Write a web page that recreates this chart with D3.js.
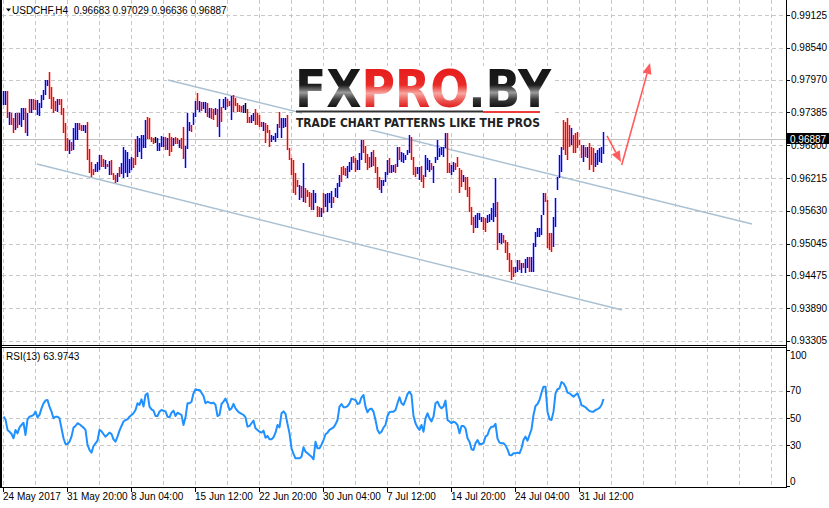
<!DOCTYPE html>
<html><head><meta charset="utf-8">
<script src="https://cdn.jsdelivr.net/npm/d3@7"></script>
<style>html,body{margin:0;padding:0;background:#fff;} svg{display:block;font-family:"Liberation Sans",Arial,sans-serif;}</style>
</head><body><svg id="c" width="829" height="508"></svg>
<script>
const symbolName = "USDCHF,H4";
const lastOHLC = ["0.96683", "0.97029", "0.96636", "0.96887"];
const lastPrice = 0.96887;
const rsiPeriod = 13;

const barHigh = [
.97769,.97769,.97769,.97400,.97370,.97281,.97370,.97370,.97382,.97459,
.97459,.97459,.97370,.97620,.97620,.97620,.97608,.97608,.97548,.97697,
.97786,.97965,.97965,.98102,.97846,.97667,.97596,.97620,.97620,.97620,
.97459,.97203,.96924,.96894,.96864,.97102,.97203,.97203,.97203,.97162,
.97162,.97162,.97215,.96727,.96507,.96370,.96466,.96507,.96626,.96626,
.96549,.96537,.96460,.96525,.96537,.96299,.96269,.96299,.96418,.96477,
.96775,.96715,.96686,.96549,.96596,.96567,.96906,.96965,.96924,.96983,
.96983,.97251,.97299,.97281,.96953,.96924,.96942,.96924,.96834,.96965,
.96953,.96942,.96924,.97013,.96942,.96924,.96942,.96924,.96894,.96924,
.97132,.96787,.97382,.97215,.97162,.97370,.97590,.97727,.97590,.97578,
.97578,.97578,.97560,.97459,.97459,.97441,.97459,.97441,.97620,.97489,
.97620,.97667,.97620,.97596,.97679,.97697,.97650,.97548,.97519,.97501,
.97519,.97548,.97441,.97310,.97340,.97370,.97441,.97370,.97340,.97221,
.97221,.97191,.97162,.97072,.96983,.96965,.97025,.97174,.97400,
.97281,.97281,.97281,.97340,.96745,.96567,.96537,.96299,.96180,.96091,
.96073,.96477,.96031,.96001,.95972,.95942,.96001,.95942,.95716,.95704,
.95674,.95942,.95930,.95954,.95942,.95990,.95871,.96031,.96120,.96269,
.96418,.96430,.96388,.96430,.96501,.96596,.96608,.96567,.96537,.96668,
.96894,.96894,.96787,.96644,.96596,.96686,.96715,.96596,.96418,.96239,
.96180,.96180,.96329,.96537,.96567,.96448,.96448,.96466,.96763,.96763,
.96686,.96656,.96626,.96715,.96983,.96953,.96596,.96418,.96418,.96418,
.96430,.96269,.96626,.96567,.96537,.96477,.96430,.96596,.96894,.96745,
.96774,.96774,.97012,.97012,.96476,.96447,.96506,.96476,.96595,.96387,
.96357,.96268,.96238,.96238,.96060,.95703,.95524,.95554,.95584,.95584,
.95524,.95524,.95495,.95554,.95572,.95673,.95762,.96221,.95792,.95227,
.95227,.95197,.95108,.95078,.94882,.94751,.94632,.94632,.94751,.94751,
.94692,.94692,.94763,.94810,.94799,.94810,.95048,.95257,.95316,.95316,
.95554,.95941,.95941,.95822,.95227,.95227,.95524,.95852,.96238,.96625,
.96774,.97250,.97220,.97280,.97161,.97101,.96982,.97012,.97042,.96893,
.96804,.96804,.96774,.96774,.96833,.96774,.96744,.96655,.96714,.96744,
.96774,.97029];

const barLow = [
.97519,.97519,.97281,.97162,.97162,.97013,.97072,.97102,.97162,.97132,
.97251,.97013,.96965,.97370,.97370,.97429,.97429,.97340,.97322,.97459,
.97608,.97697,.97858,.97620,.97441,.97370,.97418,.97400,.97519,.97340,
.97013,.96704,.96704,.96644,.96704,.96715,.96894,.96894,.97072,.97061,
.97061,.97025,.96537,.96299,.96228,.96269,.96329,.96329,.96358,.96418,
.96406,.96370,.96406,.96269,.96269,.96180,.96132,.96150,.96239,.96281,
.96210,.96299,.96239,.96299,.96358,.96400,.96448,.96596,.96686,.96549,
.96745,.96745,.96906,.96906,.96864,.96823,.96834,.96704,.96704,.96775,
.96763,.96715,.96715,.96608,.96686,.96787,.96823,.96823,.96745,.96727,
.96549,.96400,.96727,.97061,.97043,.97162,.97310,.97429,.97400,.97418,
.97441,.97382,.97299,.97281,.97263,.97251,.97340,.97132,.96953,.97221,
.97459,.97429,.97489,.97501,.97251,.97400,.97501,.97400,.97400,.97400,
.97370,.97370,.97203,.97203,.97191,.97239,.97156,.97162,.97132,.97132,
.97061,.96846,.97025,.96763,.96864,.96894,.96864,.96924,.97102,
.96924,.97102,.97132,.96715,.96537,.96269,.95942,.95912,.96061,.95823,
.95853,.95793,.95775,.95882,.95704,.95644,.95644,.95763,.95525,.95525,
.95525,.95585,.95704,.95615,.95763,.95674,.95763,.95882,.95853,.96061,
.96150,.96269,.96251,.96210,.96329,.96358,.96477,.96329,.96358,.96358,
.96537,.96656,.96477,.96358,.96388,.96418,.96430,.96299,.96031,.96001,
.95942,.96073,.96150,.96269,.96299,.96299,.96329,.96299,.96418,.96537,
.96507,.96489,.96537,.96626,.96656,.96537,.96269,.96239,.96287,.96180,
.96150,.96031,.96239,.96358,.96329,.96358,.96132,.96477,.96537,.96596,
.96625,.96595,.96744,.96298,.96298,.96268,.96328,.96357,.96417,.95941,
.96060,.96149,.96000,.95881,.95614,.95376,.95227,.95316,.95316,.95465,
.95435,.95286,.95257,.95405,.95435,.95465,.95435,.95524,.94929,.95048,
.95037,.95048,.94870,.94751,.94543,.94394,.94453,.94513,.94543,.94572,
.94513,.94602,.94513,.94602,.94543,.94543,.94543,.94989,.95167,.95167,
.95197,.95554,.95792,.94959,.94929,.94900,.94989,.95346,.96000,.96209,
.96328,.96714,.96625,.96536,.96774,.96804,.96655,.96655,.96744,.96804,
.96566,.96506,.96595,.96566,.96357,.96447,.96328,.96417,.96447,.96506,
.96476,.96636];

// b = bullish (blue), r = bearish (red), k = unchanged (black)
const barDirection = (
"bbrbrrbrbb" + "brbrbrrbbb" + "bbbrrrrbrr" + "rrrbrbbbrr" + "bbrrrrbbbr" +
"rbrbrrrbrb" + "bbbbbrrbbb" + "bbrrrrkbbb" + "brbrrbrrbr" + "rbbbrbbrbr" +
"bbrbrrbrbr" + "bbrrbrrrrr" + "bkrrbbrrrr" + "brrrbbbbr" +
"bbbrrrrrrb" + "rbrrrrbbrr" + "brbbbbrbbb" + "rrrbbbrrbb" + "brrrrbrrrr" +
"bbbbrbbrbr" + "bbbbbrrrbb" + "rrbbbrbbbb" + "bbbrrbbrrr" + "rbrrrrrbbb" +
"brrbbbbbrb" + "brrrrrrbbr" + "brbbrbbbbb" + "bbrrrrbbbb" + "brrrrbrrrr" +
"rbrbrrrbbb" + "bb").split("");

const rsiValues = [
51.0,49.1,41.3,40.0,38.3,35.2,41.3,38.8,43.2,44.9,
46.6,37.6,49.1,51.0,51.5,52.3,54.7,50.5,52.3,57.1,
60.8,62.8,63.2,58.4,54.7,49.8,51.0,51.0,49.8,42.5,
35.2,31.0,31.0,32.7,36.4,43.0,44.2,46.2,45.4,44.2,
43.0,41.3,30.3,26.6,24.7,29.5,31.5,33.4,41.3,40.3,
38.3,36.4,37.8,39.3,38.3,34.4,32.7,36.4,40.8,44.2,
47.4,48.6,49.1,51.0,52.3,53.5,55.9,60.8,59.6,63.7,
58.4,66.9,68.1,58.4,56.4,55.4,51.5,51.5,54.7,55.9,
55.4,54.9,51.0,50.5,53.9,55.4,51.5,53.9,53.0,52.3,
44.9,50.5,60.8,60.8,62.0,68.1,71.1,70.6,70.6,68.6,
66.2,60.8,62.0,61.3,60.8,61.3,59.6,51.5,52.3,60.3,
62.0,64.2,60.8,55.9,57.1,60.3,57.1,55.2,53.9,53.0,
52.3,50.5,43.7,44.2,46.2,48.1,42.5,41.3,40.0,39.3,
40.8,35.6,36.9,34.4,34.4,35.9,39.3,44.9,43.2,53.5,
54.9,53.0,45.7,38.8,27.8,23.7,20.5,20.5,20.5,21.7,
28.6,25.4,24.2,22.9,21.7,19.8,32.7,27.8,27.8,30.5,
33.9,38.1,39.3,41.3,42.2,43.2,45.4,48.6,58.4,60.3,
57.9,57.9,58.8,60.8,64.2,63.7,63.2,60.3,60.8,65.2,
66.9,58.4,54.2,56.4,56.9,54.7,48.6,41.3,38.8,40.0,
43.0,44.9,51.5,54.2,54.7,54.7,55.9,60.8,65.2,60.8,
59.6,63.2,67.6,69.3,66.9,51.5,46.2,43.2,41.3,44.9,
40.0,49.8,53.5,49.8,47.6,51.0,60.8,62.0,58.8,57.1,
58.4,62.8,48.6,47.4,46.2,47.4,46.6,44.9,38.8,44.2,
44.2,42.5,35.2,32.7,27.1,26.6,31.5,33.9,31.0,31.0,
31.5,36.4,37.6,41.8,43.7,43.7,45.7,34.9,32.0,31.5,
31.5,30.0,27.1,22.9,22.7,24.2,24.2,24.7,24.2,27.8,
33.9,36.4,33.4,37.6,41.8,52.3,58.8,60.3,63.2,68.6,
73.0,73.0,54.7,49.1,48.6,54.7,68.1,71.1,71.8,76.4,
75.5,73.0,68.6,68.1,66.9,65.7,66.9,68.1,64.5,59.3,
58.8,57.9,56.4,55.2,54.7,54.7,55.9,56.6,57.4,59.6,
63.9743];

const priceTicks = [0.99125, 0.98540, 0.97970, 0.97385, 0.96800, 0.96215, 0.95630, 0.95045, 0.94475, 0.93890, 0.93305];
const rsiTicks = [100, 70, 50, 30, 0];
const rsiLevels = [70, 50, 30];
const timeLabels = ["24 May 2017", "31 May 20:00", "8 Jun 04:00", "15 Jun 12:00", "22 Jun 20:00", "30 Jun 04:00", "7 Jul 12:00", "14 Jul 20:00", "24 Jul 04:00", "31 Jul 12:00"];
const timeLabelBars = [0, 32, 64, 96, 128, 160, 192, 224, 256, 288];
const gridStepBars = 16;
const visibleBars = 391;

// annotations in [bar index, price]
const upperChannel = [[82.25, 0.97964], [374.25, 0.95394]];
const lowerChannel = [[16.75, 0.96465], [309.25, 0.93858]];
const arrowDown = [[301.75, 0.96965], [308.75, 0.96500]];
const arrowUp = [[309.1, 0.96447], [323.25, 0.98268]];

// ---------- drawing ----------
const svg = d3.select("#c");
const axisX = 786;
const mainTop = 0, mainBottom = 345.5, rsiTop = 347.5, rsiBottom = 487;

const x = d3.scaleLinear().domain([0, visibleBars]).range([3.5, 3.5 + 2 * visibleBars]);
const yP = d3.scaleLinear().domain([0.99125, 0.93305]).range([15, 341]);
const yR = d3.scaleLinear().domain([100, 0]).range([349.8, 486.3]);

const defs = svg.append("defs");
defs.append("clipPath").attr("id", "clipMain").append("rect").attr("x", 2).attr("y", 0).attr("width", axisX - 2).attr("height", mainBottom);
defs.append("clipPath").attr("id", "clipRsi").append("rect").attr("x", 2).attr("y", rsiTop + 0.5).attr("width", axisX - 2).attr("height", rsiBottom - rsiTop - 1);

const gridColor = "#c8c8c8";
const dash = "4,3";

// vertical grid
const gridBars = d3.range(0, visibleBars, gridStepBars);
[[mainTop, mainBottom], [rsiTop, rsiBottom]].forEach(([t, b]) => {
  svg.append("g").selectAll("line").data(gridBars).join("line")
    .attr("x1", d => x(d)).attr("x2", d => x(d)).attr("y1", t).attr("y2", b)
    .attr("stroke", gridColor).attr("stroke-dasharray", dash).attr("shape-rendering", "crispEdges");
});
// horizontal grid main
svg.append("g").selectAll("line").data(priceTicks).join("line")
  .attr("x1", 2).attr("x2", axisX).attr("y1", d => Math.round(yP(d)) + 0.5).attr("y2", d => Math.round(yP(d)) + 0.5)
  .attr("stroke", gridColor).attr("stroke-dasharray", dash).attr("shape-rendering", "crispEdges");
// horizontal grid rsi
svg.append("g").selectAll("line").data(rsiLevels).join("line")
  .attr("x1", 2).attr("x2", axisX).attr("y1", d => Math.round(yR(d)) + 0.5).attr("y2", d => Math.round(yR(d)) + 0.5)
  .attr("stroke", gridColor).attr("stroke-dasharray", dash).attr("shape-rendering", "crispEdges");

// current price line
svg.append("line").attr("x1", 2).attr("x2", axisX).attr("y1", Math.round(yP(lastPrice)) - 0.5).attr("y2", Math.round(yP(lastPrice)) - 0.5)
  .attr("stroke", "#c0c0c0").attr("shape-rendering", "crispEdges");

const gMain = svg.append("g").attr("clip-path", "url(#clipMain)");

// channel lines
const chColor = "#a9c1d3";
[upperChannel, lowerChannel].forEach(seg => {
  gMain.append("line")
    .attr("x1", x(seg[0][0])).attr("y1", yP(seg[0][1]))
    .attr("x2", x(seg[1][0])).attr("y2", yP(seg[1][1]))
    .attr("stroke", chColor).attr("stroke-width", 1.4);
});

// bars
const dirColor = { b: "#0000ff", r: "#ff0000", k: "#000000" };
gMain.append("g").selectAll("line").data(barHigh).join("line")
  .attr("x1", (d, i) => x(i)).attr("x2", (d, i) => x(i))
  .attr("y1", d => Math.round(yP(d)))
  .attr("y2", (d, i) => Math.max(Math.round(yP(barLow[i])), Math.round(yP(d)) + 1))
  .attr("stroke", (d, i) => dirColor[barDirection[i]])
  .attr("stroke-width", 1.5);

// logo watermark
const logo = svg.append("g");
logo.append("rect").attr("x", 302).attr("y", 66).attr("width", 251).attr("height", 64).attr("fill", "#fff");
const gDark = defs.append("linearGradient").attr("id", "gDark").attr("gradientUnits", "userSpaceOnUse")
  .attr("x1", 0).attr("y1", 69).attr("x2", 0).attr("y2", 107);
[[0, "#161616"], [0.42, "#1c1c1c"], [0.62, "#9a9a9a"], [0.8, "#3a3a3a"], [1, "#141414"]].forEach(s =>
  gDark.append("stop").attr("offset", s[0]).attr("stop-color", s[1]));
const gRed = defs.append("linearGradient").attr("id", "gRed").attr("gradientUnits", "userSpaceOnUse")
  .attr("x1", 0).attr("y1", 69).attr("x2", 0).attr("y2", 107);
[[0, "#e61e1e"], [0.42, "#ea2a26"], [0.64, "#f6a6a0"], [0.82, "#ee5a55"], [1, "#e02020"]].forEach(s =>
  gRed.append("stop").attr("offset", s[0]).attr("stop-color", s[1]));
const logoText = logo.append("text").attr("x", 295).attr("y", 106.5)
  .attr("font-family", "'DejaVu Sans', sans-serif").attr("font-weight", "bold").attr("font-size", 51)
  .attr("textLength", 256).attr("lengthAdjust", "spacingAndGlyphs");
logoText.append("tspan").attr("fill", "url(#gDark)").text("FX");
logoText.append("tspan").attr("fill", "url(#gRed)").text("PRO");
logoText.append("tspan").attr("fill", "url(#gDark)").text(".BY");
logo.append("rect").attr("x", 296).attr("y", 110.5).attr("width", 187).attr("height", 2).attr("fill", "#333");
logo.append("rect").attr("x", 483).attr("y", 111).attr("width", 57).attr("height", 2).attr("fill", "#ee3b3b");
logo.append("text").attr("x", 296).attr("y", 127)
  .attr("font-family", "'DejaVu Sans', sans-serif").attr("font-weight", "bold").attr("font-size", 12.5)
  .attr("textLength", 244).attr("lengthAdjust", "spacingAndGlyphs").attr("fill", "#222")
  .text("TRADE CHART PATTERNS LIKE THE PROS");

// arrows
const arrowColor = "#ff5b5b";
function drawArrow(seg) {
  const x1 = x(seg[0][0]), y1 = yP(seg[0][1]), x2 = x(seg[1][0]), y2 = yP(seg[1][1]);
  const a = Math.atan2(y2 - y1, x2 - x1), L = 11, Wd = 4.5;
  const bx = x2 - L * Math.cos(a), by = y2 - L * Math.sin(a);
  svg.append("line").attr("x1", x1).attr("y1", y1).attr("x2", bx).attr("y2", by)
    .attr("stroke", arrowColor).attr("stroke-width", 1.6);
  const pts = [[x2, y2], [bx + Wd * Math.sin(a), by - Wd * Math.cos(a)], [bx - Wd * Math.sin(a), by + Wd * Math.cos(a)]];
  svg.append("polygon").attr("points", pts.map(p => p.join(",")).join(" ")).attr("fill", arrowColor);
}
drawArrow(arrowDown);
drawArrow(arrowUp);

// RSI line
svg.append("g").attr("clip-path", "url(#clipRsi)").append("path")
  .datum(rsiValues)
  .attr("d", d3.line().x((d, i) => x(i)).y(d => yR(d)))
  .attr("fill", "none").attr("stroke", "#1e90ff").attr("stroke-width", 2).attr("stroke-linejoin", "round");

// frames
const frame = svg.append("g").attr("stroke", "#000").attr("shape-rendering", "crispEdges");
frame.append("line").attr("x1", 1).attr("x2", 1).attr("y1", 0).attr("y2", rsiBottom).attr("stroke-width", 2);
frame.append("line").attr("x1", axisX + 0.5).attr("x2", axisX + 0.5).attr("y1", 0).attr("y2", rsiBottom);
frame.append("line").attr("x1", 0).attr("x2", axisX).attr("y1", mainBottom).attr("y2", mainBottom);
frame.append("line").attr("x1", 0).attr("x2", axisX).attr("y1", rsiTop).attr("y2", rsiTop);
frame.append("line").attr("x1", 0).attr("x2", axisX + 1).attr("y1", rsiBottom + 0.5).attr("y2", rsiBottom + 0.5);

// price axis
const fontSize = 10;
svg.append("g").selectAll("line").data(priceTicks).join("line")
  .attr("x1", axisX).attr("x2", axisX + 4).attr("y1", d => Math.round(yP(d)) + 0.5).attr("y2", d => Math.round(yP(d)) + 0.5)
  .attr("stroke", "#000").attr("shape-rendering", "crispEdges");
svg.append("g").selectAll("text").data(priceTicks).join("text")
  .attr("x", 791).attr("y", d => Math.min(yP(d) + 3.5, 344)).attr("font-size", fontSize).attr("fill", "#000")
  .text(d => d.toFixed(5));
// current price label
const yc = yP(lastPrice);
svg.append("rect").attr("x", 787).attr("y", Math.round(yc) - 7).attr("width", 42).attr("height", 11).attr("fill", "#000");
svg.append("text").attr("x", 790).attr("y", Math.round(yc) + 2.5).attr("font-size", fontSize).attr("fill", "#fff").text(lastPrice.toFixed(5));

// rsi axis
svg.append("g").selectAll("line").data(rsiTicks).join("line")
  .attr("x1", axisX).attr("x2", axisX + 4).attr("y1", d => Math.round(yR(d)) + 0.5).attr("y2", d => Math.round(yR(d)) + 0.5)
  .attr("stroke", "#000").attr("shape-rendering", "crispEdges");
svg.append("g").selectAll("text").data(rsiTicks).join("text")
  .attr("x", 790).attr("y", d => Math.max(Math.min(yR(d), 481), 355) + 3.5).attr("font-size", fontSize).attr("fill", "#000")
  .text(d => d);

// time axis
svg.append("g").selectAll("line").data(timeLabelBars).join("line")
  .attr("x1", d => x(d)).attr("x2", d => x(d)).attr("y1", rsiBottom).attr("y2", rsiBottom + 5)
  .attr("stroke", "#000").attr("shape-rendering", "crispEdges");
svg.append("g").selectAll("text").data(timeLabelBars).join("text")
  .attr("x", d => x(d) - 0.5).attr("y", 500).attr("font-size", fontSize).attr("fill", "#000")
  .text((d, i) => timeLabels[i]);

// titles
svg.append("path").attr("d", "M6,8.5 L11,8.5 L8.5,11.5 Z").attr("fill", "#000");
svg.append("text").attr("x", 12).attr("y", 13.5).attr("font-size", fontSize).attr("fill", "#000")
  .attr("xml:space", "preserve")
  .text(symbolName + "  " + lastOHLC.join(" "));
svg.append("text").attr("x", 6).attr("y", 360).attr("font-size", fontSize).attr("fill", "#000")
  .text("RSI(" + rsiPeriod + ") " + rsiValues[rsiValues.length - 1].toFixed(4));
</script></body></html>
